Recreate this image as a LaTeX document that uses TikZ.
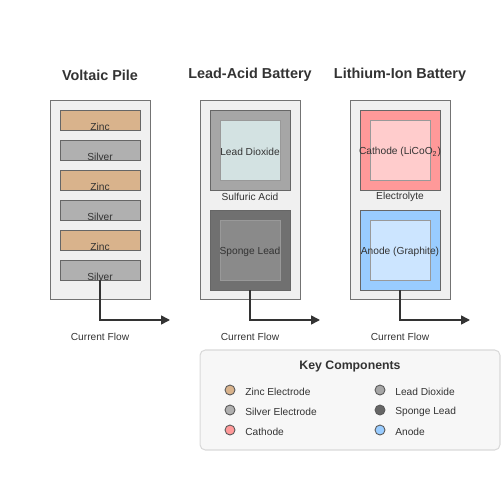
\documentclass[tikz,border=0pt]{standalone}
\usepackage{fontspec}
\setmainfont{Liberation Sans}
\usetikzlibrary{arrows.meta}

\definecolor{zinc}{HTML}{D9B38C}
\definecolor{silver}{HTML}{B0B0B0}
\definecolor{dioxide}{HTML}{A6A6A6}
\definecolor{dioxidein}{HTML}{D3E2E2}
\definecolor{sponge}{HTML}{707070}
\definecolor{spongein}{HTML}{8A8A8A}
\definecolor{cathode}{HTML}{FF9999}
\definecolor{cathodein}{HTML}{FFCCCC}
\definecolor{anode}{HTML}{99CCFF}
\definecolor{anodein}{HTML}{CCE5FF}
\definecolor{casing}{HTML}{F0F0F0}
\definecolor{ink}{HTML}{333333}

\begin{document}
\begin{tikzpicture}[x=0.02cm, y=-0.02cm,
		case/.style={rectangle, draw=black!55, fill=casing, line width=0.55pt, minimum width=2cm, minimum height=4cm, inner sep=0pt},
		plate/.style={rectangle, draw=black!60, line width=0.55pt, minimum width=1.6cm, minimum height=0.4cm, inner sep=0pt},
		block/.style={rectangle, draw=black!60, line width=0.55pt, minimum width=1.6cm, minimum height=1.6cm, inner sep=0pt},
		core/.style={rectangle, draw=black!40, line width=0.55pt, minimum width=1.2cm, minimum height=1.2cm, inner sep=0pt},
		txt/.style={text=ink, font=\fontsize{5.8}{6}\selectfont, inner sep=0pt},
		title/.style={text=ink, font=\fontsize{8.2}{9}\selectfont\bfseries, inner sep=0pt},
		flow/.style={draw=ink, line width=0.9pt, -{Triangle[length=5pt, width=5pt]}},
		dot/.style={circle, draw=black!65, line width=0.5pt, minimum size=0.2cm, inner sep=0pt}]
	\useasboundingbox (0,0) rectangle (500,500);

	%%% VOLTAIC PILE
	\node[title] (tv) at (100,75) {Voltaic Pile};
	\node[case] (cv) at (100,200) {};
	\node[plate, fill=zinc] (p1) at (100,120) {};
	\node[plate, fill=silver] (p2) at (100,150) {};
	\node[plate, fill=zinc] (p3) at (100,180) {};
	\node[plate, fill=silver] (p4) at (100,210) {};
	\node[plate, fill=zinc] (p5) at (100,240) {};
	\node[plate, fill=silver] (p6) at (100,270) {};
	\node[txt] (l1) at (100,127) {Zinc};
	\node[txt] (l2) at (100,157) {Silver};
	\node[txt] (l3) at (100,187) {Zinc};
	\node[txt] (l4) at (100,217) {Silver};
	\node[txt] (l5) at (100,247) {Zinc};
	\node[txt] (l6) at (100,277) {Silver};
	\coordinate (ev) at (170,320);
	\draw[flow] (p6.south) |- (ev);
	\node[txt] (fv) at (100,337) {Current Flow};

	%%% LEAD-ACID BATTERY
	\node[title] (ta) at (250,75) {Lead-Acid Battery};
	\node[case] (ca) at (250,200) {};
	\node[block, fill=dioxide] (pos) at (250,150) {};
	\node[core, fill=dioxidein] (posin) at (250,150) {};
	\node[txt] (lpos) at (250,152) {Lead Dioxide};
	\node[txt] (acid) at (250,197) {Sulfuric Acid};
	\node[block, fill=sponge] (neg) at (250,250) {};
	\node[core, fill=spongein] (negin) at (250,250) {};
	\node[txt] (lneg) at (250,252) {Sponge Lead};
	\coordinate (ea) at (320,320);
	\draw[flow] (neg.south) |- (ea);
	\node[txt] (fa) at (250,337) {Current Flow};

	%%% LITHIUM-ION BATTERY
	\node[title] (tl) at (400,75) {Lithium-Ion Battery};
	\node[case] (cl) at (400,200) {};
	\node[block, fill=cathode] (cat) at (400,150) {};
	\node[core, fill=cathodein] (catin) at (400,150) {};
	\node[txt] (lcat) at (400,152) {Cathode (LiCoO\textsubscript{2})};
	\node[txt] (elec) at (400,197) {Electrolyte};
	\node[block, fill=anode] (an) at (400,250) {};
	\node[core, fill=anodein] (anin) at (400,250) {};
	\node[txt] (lan) at (400,252) {Anode (Graphite)};
	\coordinate (el) at (470,320);
	\draw[flow] (an.south) |- (el);
	\node[txt] (fl) at (400,337) {Current Flow};

	%%% LEYENDA
	\node[rectangle, rounded corners=3pt, draw=black!15, fill=black!3, line width=0.6pt, minimum width=6cm, minimum height=2cm, inner sep=0pt] (key) at (350,400) {};
	\node[title, font=\fontsize{7}{8}\selectfont\bfseries] (kt) at (350,366) {Key Components};
	\node[dot, fill=zinc] (k1) at (230,390) {};
	\node[dot, fill=silver] (k2) at (230,410) {};
	\node[dot, fill=cathode] (k3) at (230,430) {};
	\node[dot, fill=dioxide] (k4) at (380,390) {};
	\node[dot, fill=black!60] (k5) at (380,410) {};
	\node[dot, fill=anode] (k6) at (380,430) {};
	\node[txt, anchor=west] (kl1) at (245,392) {Zinc Electrode};
	\node[txt, anchor=west] (kl2) at (245,412) {Silver Electrode};
	\node[txt, anchor=west] (kl3) at (245,432) {Cathode};
	\node[txt, anchor=west] (kl4) at (395,392) {Lead Dioxide};
	\node[txt, anchor=west] (kl5) at (395,412) {Sponge Lead};
	\node[txt, anchor=west] (kl6) at (395,432) {Anode};
\end{tikzpicture}
\end{document}
